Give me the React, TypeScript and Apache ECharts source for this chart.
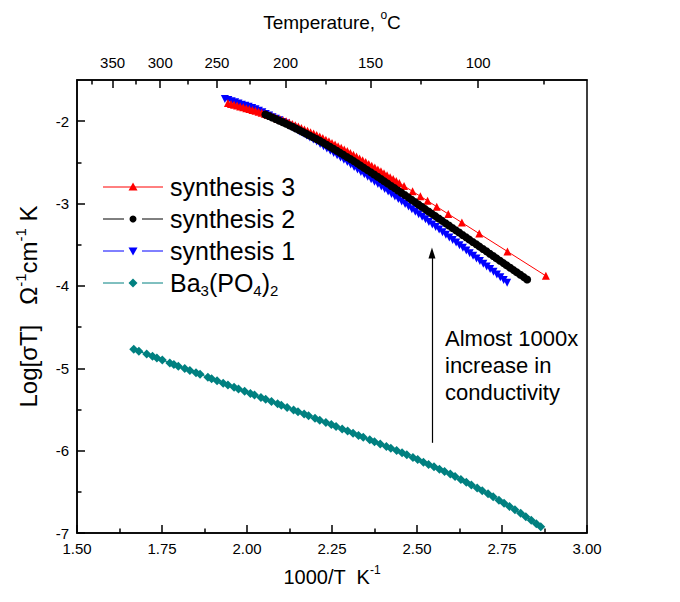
import React, { useEffect, useRef } from "react";
import * as echarts from "echarts";

const FONT = '"Liberation Sans", Arial, Helvetica, sans-serif';

// ---- axes ----
const xMin = 1.5;
const xMax = 3.0;
const xInterval = 0.25;
const yMin = -7;
const yMax = -1.5;
const yMajorTicks = [-7, -6, -5, -4, -3, -2];
const yMinorTicks = [-6.5, -5.5, -4.5, -3.5, -2.5];
const topMajorTemps = [350, 300, 250, 200, 150, 100];
const topMinorTemps = [375, 325, 275, 225, 175, 125, 75];

// ---- series (1000/T, log[sigma T]) ----
const synthesis3: [number, number][] = [
  [1.944, -1.779], [1.953, -1.79], [1.962, -1.8], [1.971, -1.811], [1.98, -1.821],
  [1.989, -1.832], [1.998, -1.842], [2.007, -1.853], [2.016, -1.864], [2.025, -1.874],
  [2.034, -1.885], [2.043, -1.898], [2.052, -1.911], [2.061, -1.924], [2.07, -1.937],
  [2.079, -1.95], [2.088, -1.963], [2.097, -1.976], [2.106, -1.989], [2.115, -2.002],
  [2.124, -2.016], [2.133, -2.033], [2.142, -2.049], [2.151, -2.066], [2.16, -2.083],
  [2.169, -2.1], [2.178, -2.116], [2.187, -2.133], [2.196, -2.15], [2.205, -2.167],
  [2.214, -2.185], [2.223, -2.205], [2.232, -2.225], [2.241, -2.244], [2.25, -2.264],
  [2.259, -2.284], [2.268, -2.304], [2.277, -2.323], [2.286, -2.343], [2.295, -2.363],
  [2.304, -2.385], [2.313, -2.407], [2.322, -2.43], [2.331, -2.452], [2.34, -2.474],
  [2.349, -2.497], [2.358, -2.519], [2.367, -2.541], [2.376, -2.563], [2.385, -2.586],
  [2.394, -2.609], [2.403, -2.633], [2.412, -2.656], [2.421, -2.68], [2.43, -2.703],
  [2.439, -2.727], [2.448, -2.75], [2.462, -2.787], [2.487, -2.852], [2.51, -2.912],
  [2.531, -2.967], [2.558, -3.038], [2.592, -3.127], [2.632, -3.231], [2.683, -3.365],
  [2.766, -3.582], [2.879, -3.878],
];

const synthesis2: [number, number][] = [
  [2.054, -1.919], [2.064, -1.937], [2.074, -1.956], [2.084, -1.974],
  [2.094, -1.993], [2.104, -2.011], [2.114, -2.03], [2.124, -2.049], [2.134, -2.068],
  [2.144, -2.089], [2.154, -2.11], [2.164, -2.132], [2.174, -2.153], [2.184, -2.174],
  [2.194, -2.196], [2.204, -2.217], [2.214, -2.238], [2.224, -2.261], [2.234, -2.286],
  [2.244, -2.31], [2.254, -2.335], [2.264, -2.36], [2.274, -2.385], [2.284, -2.409],
  [2.294, -2.434], [2.304, -2.459], [2.314, -2.485], [2.324, -2.512], [2.334, -2.54],
  [2.344, -2.567], [2.354, -2.594], [2.364, -2.621], [2.374, -2.648], [2.384, -2.675],
  [2.394, -2.703], [2.404, -2.731], [2.414, -2.758], [2.424, -2.786], [2.434, -2.813],
  [2.444, -2.841], [2.454, -2.868], [2.464, -2.897], [2.474, -2.925], [2.484, -2.954],
  [2.494, -2.982], [2.504, -3.011], [2.514, -3.039], [2.524, -3.068], [2.534, -3.096],
  [2.544, -3.125], [2.554, -3.153], [2.564, -3.182], [2.574, -3.21], [2.584, -3.239],
  [2.594, -3.267], [2.604, -3.296], [2.614, -3.324], [2.624, -3.352], [2.634, -3.381],
  [2.644, -3.409], [2.654, -3.438], [2.664, -3.466], [2.674, -3.495], [2.684, -3.523],
  [2.694, -3.552], [2.704, -3.58], [2.714, -3.609], [2.724, -3.637], [2.734, -3.666],
  [2.744, -3.694], [2.754, -3.723], [2.764, -3.751], [2.774, -3.78], [2.784, -3.808],
  [2.794, -3.836], [2.804, -3.865], [2.814, -3.893], [2.824, -3.922],
];

const synthesis1: [number, number][] = [
  [1.935, -1.73], [1.945, -1.744], [1.955, -1.757], [1.965, -1.771], [1.975, -1.785],
  [1.985, -1.799], [1.995, -1.813], [2.005, -1.826], [2.015, -1.84], [2.025, -1.855],
  [2.035, -1.874], [2.045, -1.893], [2.055, -1.913], [2.065, -1.932], [2.075, -1.951],
  [2.085, -1.97], [2.095, -1.99], [2.105, -2.009], [2.115, -2.029], [2.125, -2.054],
  [2.135, -2.078], [2.145, -2.102], [2.155, -2.126], [2.165, -2.15], [2.175, -2.174],
  [2.185, -2.198], [2.195, -2.222], [2.205, -2.248], [2.215, -2.276], [2.225, -2.303],
  [2.235, -2.331], [2.245, -2.358], [2.255, -2.386], [2.265, -2.413], [2.275, -2.441],
  [2.285, -2.468], [2.295, -2.497], [2.305, -2.527], [2.315, -2.556], [2.325, -2.586],
  [2.335, -2.616], [2.345, -2.645], [2.355, -2.675], [2.365, -2.704], [2.375, -2.734],
  [2.385, -2.764], [2.395, -2.794], [2.405, -2.824], [2.415, -2.855], [2.425, -2.885],
  [2.435, -2.915], [2.445, -2.946], [2.455, -2.976], [2.465, -3.006], [2.475, -3.037],
  [2.485, -3.068], [2.495, -3.099], [2.505, -3.13], [2.515, -3.161], [2.525, -3.192],
  [2.535, -3.223], [2.545, -3.254], [2.555, -3.284], [2.565, -3.316], [2.575, -3.348],
  [2.585, -3.379], [2.595, -3.411], [2.605, -3.442], [2.615, -3.474], [2.625, -3.506],
  [2.635, -3.537], [2.645, -3.569], [2.655, -3.602], [2.665, -3.634], [2.675, -3.666],
  [2.685, -3.699], [2.695, -3.731], [2.705, -3.763], [2.715, -3.796], [2.725, -3.828],
  [2.735, -3.861], [2.745, -3.894], [2.755, -3.927], [2.765, -3.961],
];

const baPhosphate: [number, number][] = [
  [1.667, -4.768], [1.682, -4.792], [1.705, -4.828], [1.722, -4.855], [1.735, -4.875],
  [1.751, -4.9], [1.773, -4.935], [1.785, -4.954], [1.798, -4.974], [1.817, -5.004],
  [1.832, -5.027], [1.85, -5.055], [1.862, -5.074], [1.885, -5.11], [1.896, -5.128],
  [1.912, -5.153], [1.93, -5.181], [1.944, -5.203], [1.962, -5.231], [1.975, -5.251],
  [1.993, -5.279], [2.01, -5.306], [2.022, -5.324], [2.041, -5.354], [2.055, -5.376],
  [2.072, -5.403], [2.09, -5.431], [2.101, -5.449], [2.118, -5.476], [2.137, -5.507],
  [2.15, -5.528], [2.168, -5.556], [2.181, -5.577], [2.2, -5.608], [2.214, -5.63],
  [2.232, -5.659], [2.248, -5.684], [2.262, -5.707], [2.28, -5.736], [2.296, -5.762],
  [2.312, -5.789], [2.328, -5.815], [2.342, -5.838], [2.361, -5.869], [2.375, -5.892],
  [2.392, -5.92], [2.41, -5.949], [2.423, -5.97], [2.44, -5.998], [2.456, -6.026],
  [2.47, -6.051], [2.488, -6.084], [2.502, -6.109], [2.519, -6.14], [2.534, -6.167],
  [2.55, -6.196], [2.566, -6.225], [2.581, -6.252], [2.598, -6.284], [2.612, -6.314],
  [2.629, -6.351], [2.645, -6.385], [2.66, -6.418], [2.677, -6.455], [2.692, -6.487],
  [2.709, -6.524], [2.724, -6.559], [2.741, -6.602], [2.756, -6.639], [2.772, -6.678],
  [2.788, -6.718], [2.805, -6.761], [2.82, -6.802], [2.836, -6.846], [2.851, -6.887],
  [2.864, -6.923],
];

// annotation arrow (data coordinates)
const arrowX = 2.544;
const arrowFromY = -5.905;
const arrowToY = -3.6;
const annotationText = "Almost 1000x\nincrease in\nconductivity";

const legendItems = [
  { label: "{a|synthesis 3}", color: "#ff0000", kind: "up", solid: true },
  { label: "{a|synthesis 2}", color: "#000000", kind: "dot", solid: false },
  { label: "{a|synthesis 1}", color: "#0000ff", kind: "down", solid: false },
  { label: "{a|Ba}{b|3}{a|(PO}{b|4}{a|)}{b|2}", color: "#008080", kind: "diamond", solid: false },
];

const toInv = (t: number) => 1000 / (t + 273.15);

function buildLegend() {
  const els: any[] = [];
  const x0 = 103, x1 = 163, xm = 133;
  legendItems.forEach((it, i) => {
    const yc = 187 + 32 * i;
    if (it.solid) {
      els.push({ type: "line", shape: { x1: x0, y1: yc, x2: x1, y2: yc }, style: { stroke: it.color, lineWidth: 1 } });
    } else {
      els.push({ type: "line", shape: { x1: x0, y1: yc, x2: xm - 9, y2: yc }, style: { stroke: it.color, lineWidth: 1 } });
      els.push({ type: "line", shape: { x1: xm + 9, y1: yc, x2: x1, y2: yc }, style: { stroke: it.color, lineWidth: 1 } });
    }
    if (it.kind === "up") {
      els.push({ type: "polygon", shape: { points: [[xm, yc - 4.5], [xm + 4.5, yc + 3.5], [xm - 4.5, yc + 3.5]] }, style: { fill: it.color } });
    } else if (it.kind === "down") {
      els.push({ type: "polygon", shape: { points: [[xm - 4.5, yc - 3.5], [xm + 4.5, yc - 3.5], [xm, yc + 4.5]] }, style: { fill: it.color } });
    } else if (it.kind === "dot") {
      els.push({ type: "circle", shape: { cx: xm, cy: yc, r: 3.5 }, style: { fill: it.color } });
    } else {
      els.push({ type: "polygon", shape: { points: [[xm, yc - 4.5], [xm + 4.5, yc], [xm, yc + 4.5], [xm - 4.5, yc]] }, style: { fill: it.color } });
    }
    els.push({
      type: "text",
      x: 170,
      y: yc,
      style: {
        text: it.label,
        verticalAlign: "middle",
        align: "left",
        fill: "#000",
        rich: {
          a: { fontSize: 25, fontFamily: FONT, fill: "#000", lineHeight: 30 },
          b: { fontSize: 15, fontFamily: FONT, fill: "#000", lineHeight: 17, verticalAlign: "bottom" },
        },
      },
    });
  });
  return els;
}

const axisColor = "#000";
const tickStyle = { color: axisColor, width: 1.5 };

export default function App() {
  const ref = useRef<HTMLDivElement>(null);
  useEffect(() => {
    if (!ref.current) return;
    const chart = echarts.init(ref.current, undefined, { renderer: "svg" });
    const titleStyle = (size: number, sup: number, lh: number) => ({
      rich: {
        a: { fontSize: size, fontFamily: FONT, color: "#000", lineHeight: lh },
        s: { fontSize: sup, fontFamily: FONT, color: "#000", lineHeight: sup + 2, verticalAlign: "top" },
      },
    });
    const option: any = {
      animation: false,
      backgroundColor: "#fff",
      grid: {
        left: 77, right: 93, top: 80, bottom: 69,
        show: true, borderColor: "#000", borderWidth: 1.5, backgroundColor: "transparent",
        containLabel: false, outerBoundsMode: "none",
      },
      xAxis: [
        {
          type: "value", min: xMin, max: xMax, interval: xInterval, position: "bottom",
          axisLine: { show: true, onZero: false, lineStyle: { color: axisColor, width: 1.5 } },
          axisTick: { show: true, inside: true, length: 8, lineStyle: tickStyle },
          minorTick: { show: true, splitNumber: 2, length: 4.5, lineStyle: tickStyle },
          splitLine: { show: false }, minorSplitLine: { show: false },
          axisLabel: {
            formatter: (v: number) => v.toFixed(2), fontSize: 15, color: "#000", fontFamily: FONT,
            margin: 8, showMinLabel: true, showMaxLabel: true,
          },
          name: "{a|1000/T  K}{s|-1}", nameLocation: "middle", nameGap: 31, nameMoveOverlap: false,
          nameTextStyle: titleStyle(20, 12, 26),
        },
        {
          type: "value", min: xMin, max: xMax, position: "top",
          axisLine: { show: true, onZero: false, lineStyle: { color: axisColor, width: 1.5 } },
          axisTick: { show: true, inside: true, length: 8, lineStyle: tickStyle, customValues: topMajorTemps.map(toInv) },
          splitLine: { show: false },
          axisLabel: {
            customValues: topMajorTemps.map(toInv),
            formatter: (v: number) => String(Math.round(1000 / v - 273.15)),
            fontSize: 15, color: "#000", fontFamily: FONT, margin: 10,
          },
          name: "{a|Temperature, }{s|o}{a|C}", nameLocation: "middle", nameGap: 45, nameMoveOverlap: false,
          nameTextStyle: titleStyle(19, 12, 26),
        },
        {
          type: "value", min: xMin, max: xMax, position: "top",
          axisLine: { show: false },
          axisTick: { show: true, inside: true, length: 4.5, lineStyle: tickStyle, customValues: topMinorTemps.map(toInv) },
          axisLabel: { show: false }, splitLine: { show: false },
        },
      ],
      yAxis: [
        {
          type: "value", min: yMin, max: yMax, position: "left",
          axisLine: { show: true, onZero: false, lineStyle: { color: axisColor, width: 1.5 } },
          axisTick: { show: true, inside: true, length: 8, lineStyle: tickStyle, customValues: yMajorTicks },
          splitLine: { show: false },
          axisLabel: {
            customValues: yMajorTicks, formatter: (v: number) => String(v),
            fontSize: 15, color: "#000", fontFamily: FONT, margin: 8,
          },
          name: "{a|Log[σT]   Ω}{s|-1}{a|cm}{s|-1}{a| K}", nameLocation: "middle", nameGap: 34, nameMoveOverlap: false,
          nameTextStyle: titleStyle(24, 15, 30),
        },
        {
          type: "value", min: yMin, max: yMax, position: "left",
          axisLine: { show: false },
          axisTick: { show: true, inside: true, length: 4.5, lineStyle: tickStyle, customValues: yMinorTicks },
          axisLabel: { show: false }, splitLine: { show: false },
        },
      ],
      series: [
        {
          type: "line", name: "Ba3(PO4)2", data: baPhosphate, symbol: "diamond", symbolSize: 9,
          showAllSymbol: true, itemStyle: { color: "#008080" }, lineStyle: { color: "#008080", width: 1 },
          silent: true, emphasis: { disabled: true }, z: 2,
        },
        {
          type: "line", name: "synthesis 1", data: synthesis1, symbol: "triangle", symbolRotate: 180, symbolSize: 8,
          showAllSymbol: true, itemStyle: { color: "#0000ff" }, lineStyle: { color: "#0000ff", width: 1 },
          silent: true, emphasis: { disabled: true }, z: 3,
          markLine: {
            silent: true, symbol: ["none", "triangle"], symbolSize: [7, 11],
            lineStyle: { color: "#000", width: 1.2, type: "solid" }, label: { show: false },
            emphasis: { disabled: true },
            data: [[{ coord: [arrowX, arrowFromY] }, { coord: [arrowX, arrowToY] }]],
          },
        },
        {
          type: "line", name: "synthesis 3", data: synthesis3, symbol: "triangle", symbolSize: 8,
          showAllSymbol: true, itemStyle: { color: "#ff0000" }, lineStyle: { color: "#ff0000", width: 1 },
          silent: true, emphasis: { disabled: true }, z: 4,
        },
        {
          type: "line", name: "synthesis 2", data: synthesis2, symbol: "circle", symbolSize: 8,
          showAllSymbol: true, itemStyle: { color: "#000000" }, lineStyle: { color: "#000000", width: 1 },
          silent: true, emphasis: { disabled: true }, z: 5,
        },
      ],
      graphic: [
        ...buildLegend(),
        {
          type: "text", x: 445, y: 325,
          style: { text: annotationText, fontSize: 22, fontFamily: FONT, fill: "#000", lineHeight: 27, align: "left", verticalAlign: "top" },
        },
      ],
    };
    chart.setOption(option);
    return () => chart.dispose();
  }, []);
  return <div ref={ref} style={{ position: "absolute", left: 0, top: 0, width: 680, height: 602 }} />;
}
